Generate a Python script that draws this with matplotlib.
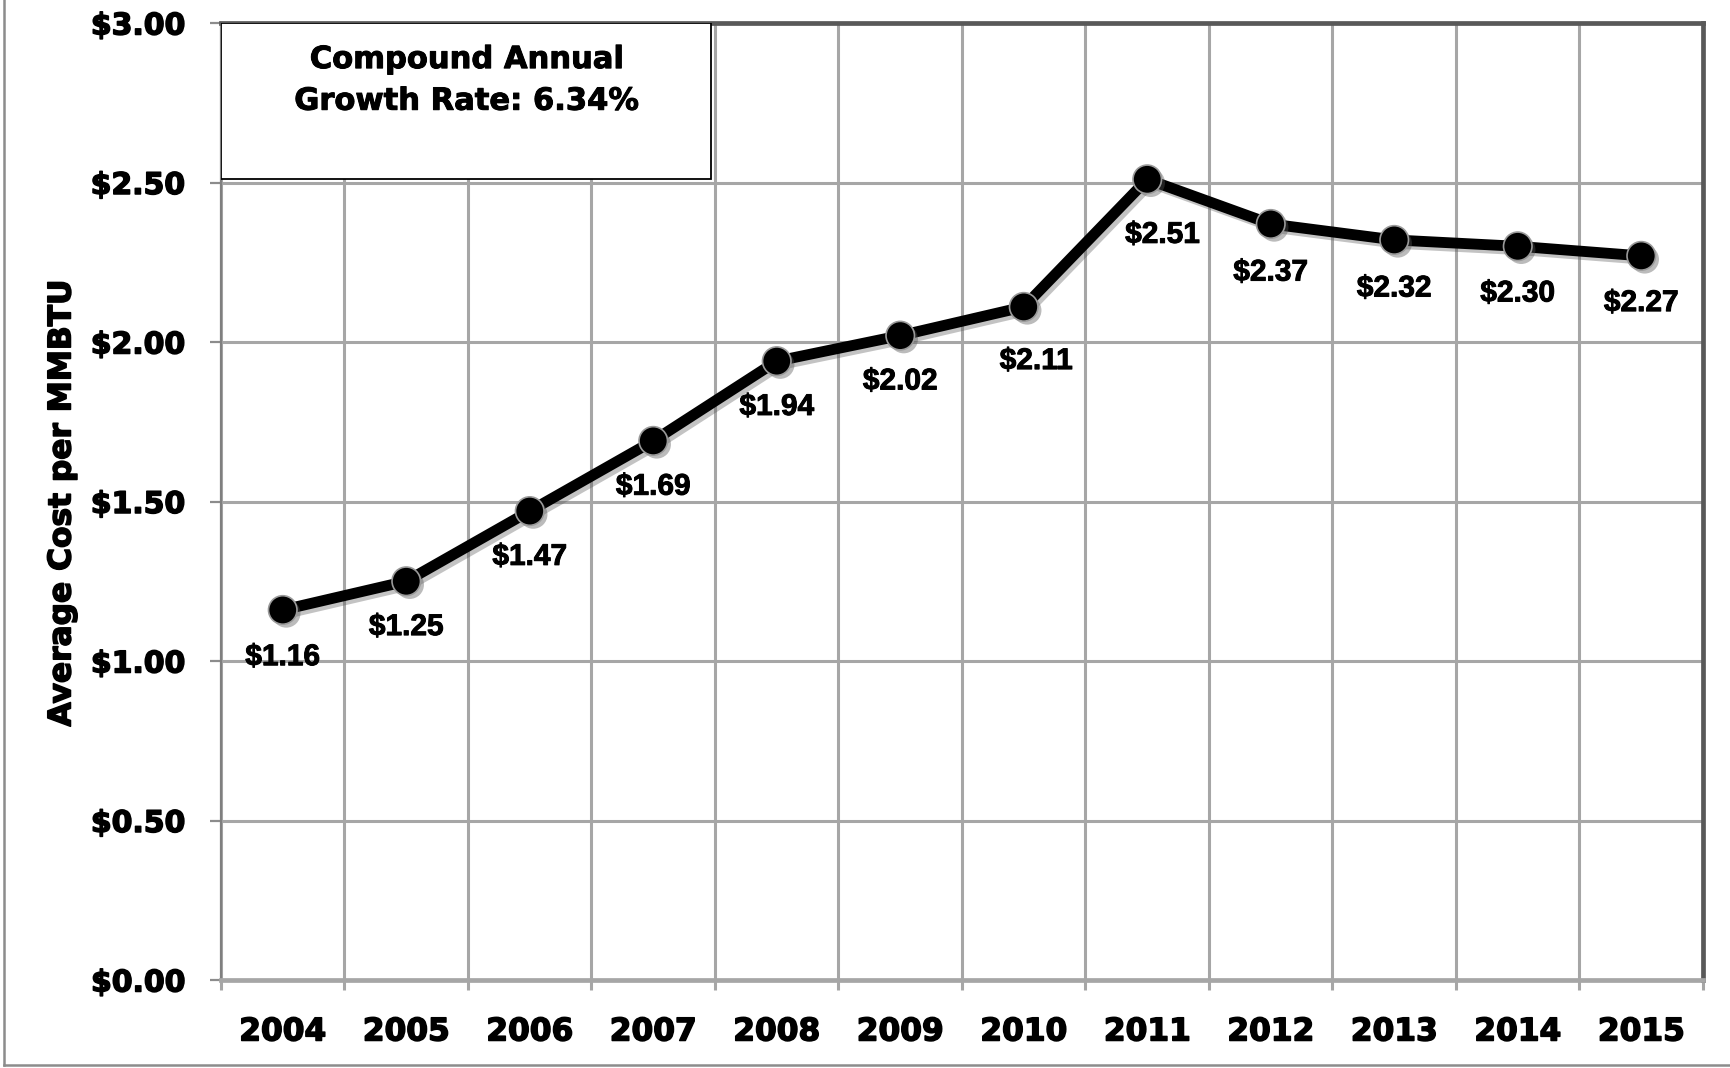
import matplotlib
matplotlib.use("Agg")
import matplotlib.pyplot as plt
import matplotlib.patheffects as pe
from matplotlib.patches import Rectangle
from matplotlib.lines import Line2D
import numpy as np

# Average cost per MMBTU by year
years = ["2004", "2005", "2006", "2007", "2008", "2009",
         "2010", "2011", "2012", "2013", "2014", "2015"]
avg_cost = [1.16, 1.25, 1.47, 1.69, 1.94, 2.02, 2.11, 2.51, 2.37, 2.32, 2.30, 2.27]
y_ticks = [0.0, 0.5, 1.0, 1.5, 2.0, 2.5, 3.0]
y_tick_labels = ["$0.00", "$0.50", "$1.00", "$1.50", "$2.00", "$2.50", "$3.00"]
cagr_text = "Compound Annual\nGrowth Rate: 6.34%"
y_title = "Average Cost per MMBTU"

# label nudges in points (dx, dy) relative to each point
label_dx = [0, 0, 0, 0, 0, 0, 9, 11, 0, 0, 0, 0]
label_dy = [-34, -33, -33, -33, -33, -33, -39, -40, -35, -35, -34, -34]

W, H, DPI = 1731, 1068, 100
fig = plt.figure(figsize=(W / DPI, H / DPI), dpi=DPI)
fig.patch.set_facecolor("white")

# a thin outline makes the bold faces look heavier
heavy = [pe.withStroke(linewidth=1.1, foreground="black")]
semi_heavy = [pe.withStroke(linewidth=0.7, foreground="black")]

left, right, top, bottom = 221, 1703, 23, 980
ax = fig.add_axes([left / W, 1 - bottom / H, (right - left) / W, (bottom - top) / H])

x = np.arange(len(years))
ax.set_xlim(-0.5, len(years) - 0.5)
ax.set_ylim(0, 3.0)

grid_color = "#a6a6a6"
# horizontal grid
ax.set_yticks(y_ticks)
ax.set_yticklabels(y_tick_labels, fontsize=21.5, fontweight="bold", family="DejaVu Sans")
ax.yaxis.grid(True, color=grid_color, linewidth=2.2, zorder=0)
ax.tick_params(axis="y", direction="out", length=8, width=1.6, color="#8c8c8c", pad=18)

# category axis: labels at centers, gridlines/ticks between categories
ax.set_xticks(x)
ax.set_xticklabels(years, fontsize=22.5, fontweight="bold", family="DejaVu Sans")
ax.set_xticks(np.arange(-0.5, len(years), 1.0), minor=True)
ax.tick_params(axis="x", which="major", length=0, pad=27)
ax.tick_params(axis="x", which="minor", direction="out", length=7.5, width=2.2, color=grid_color)
ax.xaxis.grid(True, which="minor", color=grid_color, linewidth=2.2, zorder=0)
ax.set_axisbelow(True)

for lbl in ax.get_xticklabels() + ax.get_yticklabels():
    lbl.set_color("black")
    lbl.set_path_effects(heavy)

# frame
ax.spines["left"].set_color("#7f7f7f")
ax.spines["left"].set_linewidth(1.6)
ax.spines["bottom"].set_color(grid_color)
ax.spines["bottom"].set_linewidth(3.4)
ax.spines["top"].set_color("#595959")
ax.spines["top"].set_linewidth(3.4)
ax.spines["right"].set_color("#595959")
ax.spines["right"].set_linewidth(3.4)

# data line with shadow
shadow = [pe.SimpleLineShadow(offset=(2.5, -2.5), shadow_color="#555555", alpha=0.35),
          pe.Normal()]
ax.plot(x, avg_cost, color="black", linewidth=7.8, solid_joinstyle="round",
        zorder=3, path_effects=shadow, clip_on=False)
ax.plot(x, avg_cost, linestyle="none", marker="o", markersize=20.5,
        markerfacecolor="black", markeredgecolor="#9a9a9a", markeredgewidth=1.2,
        zorder=4, clip_on=False,
        path_effects=[pe.SimplePatchShadow(offset=(2.5, -2.5), shadow_rgbFace="#555555", alpha=0.4),
                      pe.Normal()])

# value labels under each point
for xi, val, dx, dy in zip(x, avg_cost, label_dx, label_dy):
    ax.annotate(f"${val:.2f}", xy=(xi, val), xytext=(dx, dy), textcoords="offset points",
                ha="center", va="center", fontsize=21.5, fontweight="bold",
                family="Liberation Sans", color="black", zorder=5,
                path_effects=semi_heavy)

# growth-rate box in the top-left corner
box = Rectangle((-0.5, 2.51), 3.97, 0.49, facecolor="white", edgecolor="black",
                linewidth=1.3, zorder=6)
ax.add_patch(box)
ax.text(-0.5 + 3.97 / 2, 2.82, cagr_text, ha="center", va="center", fontsize=22,
        fontweight="bold", family="DejaVu Sans", linespacing=1.55, zorder=7,
        path_effects=semi_heavy)

# axis title
fig.text(62 / W, 1 - 503 / H, y_title, rotation=90, ha="center", va="center",
         fontsize=22.5, fontweight="bold", family="DejaVu Sans", color="black",
         path_effects=heavy)

# outer chart border (left and bottom edges)
border_y = 1 - 1065 / H
fig.add_artist(Line2D([4 / W, 4 / W], [border_y, 1], transform=fig.transFigure,
                      color="#8c8c8c", linewidth=1.8))
fig.add_artist(Line2D([4 / W, 1], [border_y, border_y], transform=fig.transFigure,
                      color="#8c8c8c", linewidth=1.8))

fig.savefig("out.png", dpi=DPI, facecolor="white")
